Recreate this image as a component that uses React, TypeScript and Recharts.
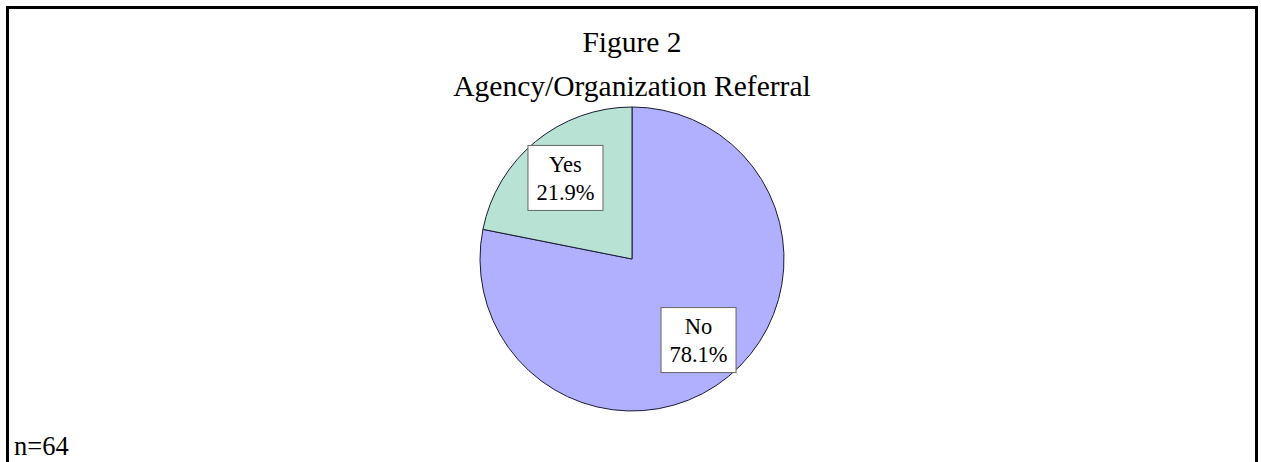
import * as React from "react";
import { PieChart, Pie, Cell } from "recharts";

const categories = ["No", "Yes"];
const counts = [50, 14];
const sliceColors = ["#B0B0FF", "#B8E2D3"];
const title = "Figure 2";
const subtitle = "Agency/Organization Referral";
const note = "n=64";

const data = categories.map((name, i) => ({ name, value: counts[i] }));
const total = counts.reduce((a, b) => a + b, 0);

const RADIAN = Math.PI / 180;
const serif = '"Liberation Serif", "Times New Roman", serif';

function BoxLabel(props: any) {
  const { cx, cy, midAngle, outerRadius, payload } = props;
  const r = outerRadius * 0.69;
  const x = cx + r * Math.cos(-midAngle * RADIAN);
  const y = cy + r * Math.sin(-midAngle * RADIAN);
  const pct = ((payload.value / total) * 100).toFixed(1) + "%";
  const w = 75;
  const h = 65;
  return (
    <g>
      <rect
        x={x - w / 2}
        y={y - h / 2}
        width={w}
        height={h}
        fill="#fff"
        stroke="#666"
        strokeWidth={1}
      />
      <text
        x={x}
        y={y - 6}
        textAnchor="middle"
        fontFamily={serif}
        fontSize={22.5}
        fill="#000"
      >
        {payload.name}
      </text>
      <text
        x={x}
        y={y + 22}
        textAnchor="middle"
        fontFamily={serif}
        fontSize={22.5}
        fill="#000"
      >
        {pct}
      </text>
    </g>
  );
}

export default function App() {
  return (
    <div
      style={{
        position: "absolute",
        left: 6,
        top: 6,
        width: 1252,
        height: 470,
        boxSizing: "border-box",
        border: "3px solid #000",
        background: "#fff",
        fontFamily: serif,
      }}
    >
      <div
        style={{
          position: "absolute",
          left: 0,
          width: 1246,
          top: 17,
          textAlign: "center",
          fontSize: 29.5,
          lineHeight: "32px",
        }}
      >
        {title}
      </div>
      <div
        style={{
          position: "absolute",
          left: 0,
          width: 1246,
          top: 61,
          textAlign: "center",
          fontSize: 29.5,
          lineHeight: "32px",
        }}
      >
        {subtitle}
      </div>
      <div style={{ position: "absolute", left: 0, top: 0 }}>
        <PieChart width={1246} height={456}>
          <Pie
            data={data}
            dataKey="value"
            nameKey="name"
            cx={618}
            cy={245}
            outerRadius={152}
            startAngle={90}
            endAngle={-270}
            stroke="#1a1a33"
            strokeWidth={1}
            label={BoxLabel}
            labelLine={false}
            isAnimationActive={false}
          >
            {data.map((_, i) => (
              <Cell key={i} fill={sliceColors[i]} />
            ))}
          </Pie>
        </PieChart>
      </div>
      <div
        style={{
          position: "absolute",
          left: 5,
          top: 425,
          fontSize: 26.5,
          lineHeight: "24px",
        }}
      >
        {note}
      </div>
    </div>
  );
}
